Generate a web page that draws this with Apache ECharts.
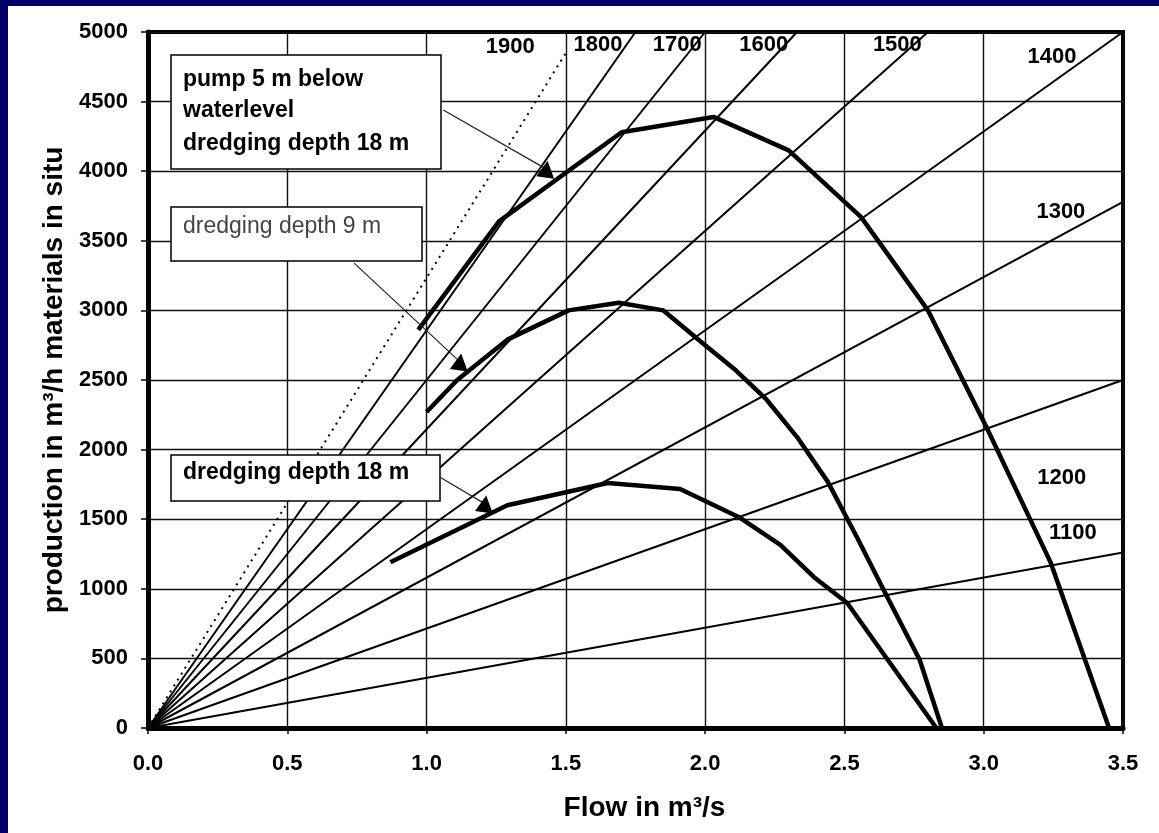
<!DOCTYPE html>
<html>
<head>
<meta charset="utf-8">
<script src="https://cdn.jsdelivr.net/npm/echarts@6/dist/echarts.min.js"></script>
<style>
  html, body { margin: 0; padding: 0; background: #fff; }
  #chart { width: 1159px; height: 833px; }
</style>
</head>
<body>
<div id="chart"></div>
<script>
// mixture density lines from the origin, ends read where they meet the frame
const rayNames = ['1900', '1800', '1700', '1600', '1500', '1400', '1300', '1200', '1100']
const rayEnds = [[1.50, 4850], [1.75, 5000], [2.00, 5000], [2.33, 5000], [2.80, 5000],
                 [3.50, 5000], [3.50, 3780], [3.50, 2500], [3.50, 1260]]

// production curves (flow m3/s, production m3/h)
const curvePump = [[0.97, 2860], [1.26, 3640], [1.70, 4280], [2.03, 4390], [2.30, 4150],
                   [2.56, 3670], [2.80, 3000], [3.01, 2160], [3.24, 1190], [3.45, 0]]
const curve9m = [[1.00, 2270], [1.11, 2500], [1.29, 2790], [1.51, 3000], [1.69, 3055], [1.85, 3000],
                 [2.00, 2750], [2.11, 2570], [2.22, 2360], [2.33, 2090], [2.44, 1770],
                 [2.545, 1370], [2.65, 955], [2.77, 490], [2.85, 0]]
const curve18m = [[0.87, 1190], [1.29, 1600], [1.65, 1760], [1.91, 1717], [2.12, 1516],
                  [2.27, 1315], [2.39, 1085], [2.51, 898], [2.83, 0]]

const xTicks = ['0.0', '0.5', '1.0', '1.5', '2.0', '2.5', '3.0', '3.5']
const yTicks = [0, 500, 1000, 1500, 2000, 2500, 3000, 3500, 4000, 4500, 5000]

// note boxes and their pointer lines
const noteTexts = [['pump 5 m below', 'waterlevel', 'dredging depth 18 m'], ['dredging depth 9 m'], ['dredging depth 18 m']]
const noteFrom = [[1.06, 4440], [0.74, 3340], [1.05, 1800]]
const noteTo = [[1.43, 4015], [1.12, 2630], [1.21, 1610]]

const FONT = '"Liberation Sans", Arial, sans-serif'

// where the density numbers sit, in chart units
const labelSpots = {
  '1900': [1.30, 4890], '1800': [1.615, 4905], '1700': [1.90, 4910], '1600': [2.21, 4910],
  '1500': [2.69, 4910], '1400': [3.245, 4820], '1300': [3.277, 3705], '1200': [3.28, 1796],
  '1100': [3.32, 1400]
}

const chart = echarts.init(document.getElementById('chart'), null, { renderer: 'canvas' })

let series = []

rayNames.map((name, i) => {
  series.push({
    name: name,
    type: 'line',
    data: [[0, 0], rayEnds[i]],
    showSymbol: false,
    silent: true,
    lineStyle: {
      color: '#000',
      width: 2,
      type: name == '1900' ? [2, 5] : 'solid'
    },
    markPoint: {
      symbol: 'circle',
      symbolSize: 1,
      itemStyle: { color: 'transparent' },
      label: {
        show: true,
        position: 'inside',
        formatter: name,
        color: '#000',
        fontFamily: FONT,
        fontWeight: 'bold',
        fontSize: 22
      },
      data: [{ coord: labelSpots[name] }]
    }
  })
})

;[curvePump, curve9m, curve18m].map(c => {
  series.push({
    type: 'line',
    data: c,
    showSymbol: false,
    silent: true,
    lineStyle: { color: '#000', width: 4.5, join: 'round' }
  })
})

noteFrom.map((from, i) => {
  series.push({
    type: 'line',
    data: [
      { value: from, symbol: 'none' },
      { value: noteTo[i], symbol: 'triangle', symbolSize: [18, 17], symbolRotate: -8 }
    ],
    showSymbol: true,
    silent: true,
    itemStyle: { color: '#000' },
    lineStyle: { color: '#222', width: 1.2 }
  })
})

// note boxes
const boxes = [
  { x: 171, y: 55, w: 270, h: 114, lines: [80, 111, 144], weight: 'bold', color: '#000' },
  { x: 171, y: 207, w: 251, h: 54, lines: [227], weight: 'normal', color: '#444' },
  { x: 171, y: 455, w: 269, h: 46, lines: [473], weight: 'bold', color: '#000' }
]
let graphic = []
boxes.map((b, i) => {
  graphic.push({
    type: 'rect', z: 100,
    shape: { x: b.x, y: b.y, width: b.w, height: b.h },
    style: { fill: '#fff', stroke: '#000', lineWidth: 1.5 }
  })
  noteTexts[i].map((t, j) => {
    graphic.push({
      type: 'text', z: 101,
      x: 183, y: b.lines[j],
      style: {
        text: t, fill: b.color, font: b.weight + ' 23px ' + FONT,
        textVerticalAlign: 'middle'
      }
    })
  })
})
// navy frame of the slide
graphic.push({ type: 'rect', z: 200, shape: { x: 0, y: 0, width: 8, height: 833 }, style: { fill: '#000068' } })
graphic.push({ type: 'rect', z: 200, shape: { x: 0, y: 0, width: 1159, height: 6 }, style: { fill: '#000068' } })

chart.setOption({
  animation: false,
  backgroundColor: '#fff',
  grid: {
    left: 148, right: 36, top: 32, bottom: 105,
    show: true, borderColor: '#000', borderWidth: 4
  },
  xAxis: {
    type: 'value',
    min: 0, max: 3.5, interval: 0.5,
    name: 'Flow in m³/s',
    nameLocation: 'middle',
    nameGap: 66,
    nameTextStyle: { fontFamily: FONT, fontWeight: 'bold', fontSize: 28, color: '#000', padding: [0, 0, 0, 18] },
    axisLine: { show: true, lineStyle: { color: '#000', width: 5 } },
    axisTick: { show: true, length: 6, lineStyle: { color: '#000', width: 1.5 } },
    axisLabel: {
      margin: 25,
      formatter: v => xTicks[Math.round(v / 0.5)],
      fontFamily: FONT, fontWeight: 'bold', fontSize: 22, color: '#000'
    },
    splitLine: { show: true, lineStyle: { color: '#111', width: 1.4 } }
  },
  yAxis: {
    type: 'value',
    min: 0, max: 5000, interval: 500,
    name: 'production in m³/h materials in situ',
    nameLocation: 'middle',
    nameGap: 72,
    nameTextStyle: { fontFamily: FONT, fontWeight: 'bold', fontSize: 28, color: '#000' },
    axisLine: { show: true, lineStyle: { color: '#000', width: 5 } },
    axisTick: { show: true, length: 7, lineStyle: { color: '#000', width: 1.5 } },
    axisLabel: {
      margin: 20,
      formatter: v => String(yTicks[Math.round(v / 500)]),
      fontFamily: FONT, fontWeight: 'bold', fontSize: 22, color: '#000'
    },
    splitLine: { show: true, lineStyle: { color: '#111', width: 1.4 } }
  },
  graphic: graphic,
  series: series
})
</script>
</body>
</html>
